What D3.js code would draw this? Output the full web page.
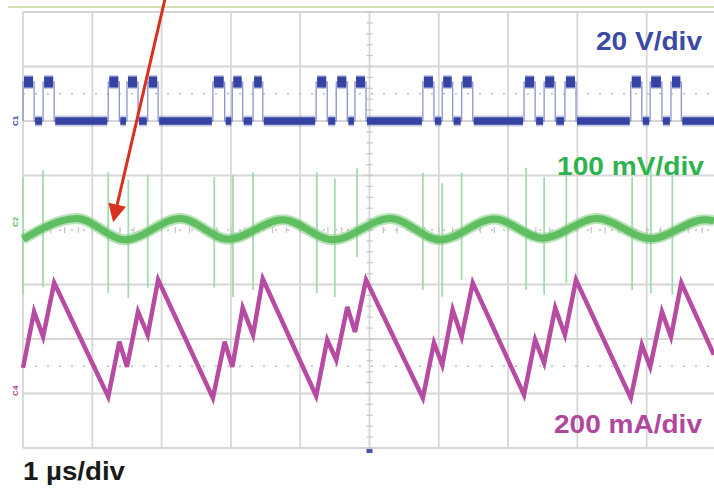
<!DOCTYPE html>
<html>
<head>
<meta charset="utf-8">
<script src="https://cdn.jsdelivr.net/npm/d3@7"></script>
<style>
  html, body { margin: 0; padding: 0; background: #fff; }
  svg { display: block; }
  text { font-family: "Liberation Sans", Arial, sans-serif; font-weight: bold; }
</style>
</head>
<body>
<div id="scope"></div>
<script>
// time axis: 1 µs/div, 10 divisions
// switch node (20 V/div) : pulse edges in µs
const pulseStart = [0, 0.29, 1.23, 1.50, 1.80, 2.74, 3.02, 3.32, 4.23, 4.52, 4.79, 5.77, 6.05, 6.33, 7.23, 7.52, 7.82, 8.77, 9.05, 9.35];
const pulseEnd   = [0.16, 0.45, 1.39, 1.66, 1.95, 2.91, 3.17, 3.46, 4.39, 4.68, 4.95, 5.93, 6.20, 6.49, 7.39, 7.68, 7.98, 8.93, 9.22, 9.50];
const swLevels = [0, 14.3];   // V low / high

// output ripple (100 mV/div), extremes of the waveform
const rippleTime = [0, 0.78, 1.47, 2.27, 2.96, 3.75, 4.47, 5.30, 6.02, 6.80, 7.50, 8.28, 9.06, 9.84, 9.97];
const rippleMv   = [-17, 21, -18, 21, -17, 19, -18, 21, -18, 20, -15, 21, -16, 19, 17];

// switching spikes on the ripple trace
const spikeTime   = [0, 0.29, 1.23, 1.52, 1.80, 2.76, 3.03, 3.32, 4.24, 4.50, 4.82, 5.77, 6.05, 6.33, 7.26, 7.52, 7.84, 8.79, 9.06, 9.37];
const spikeTop    = [97, 110, 106, 92, 101, 97, 101, 106, 106, 95, 114, 105, 86, 105, 114, 97, 110, 97, 114, 105];
const spikeBottom = [-119, -105, -116, -125, -106, -106, -123, -110, -116, -123, -50, -110, -123, -92, -110, -119, -97, -110, -116, -119];

// inductor current (200 mA/div), vertices
const ilTime = [0, 0.16, 0.29, 0.45, 1.23, 1.39, 1.50, 1.66, 1.80, 1.95, 2.74, 2.91, 3.02, 3.17, 3.32, 3.46,
                4.23, 4.39, 4.52, 4.68, 4.79, 4.95, 5.77, 5.93, 6.05, 6.20, 6.33, 6.49, 7.23, 7.39, 7.52, 7.68,
                7.82, 7.98, 8.77, 8.93, 9.05, 9.22, 9.35, 9.50, 9.97];
const ilMa   = [110, 316, 224, 422, 4, 206, 114, 316, 231, 433, 0, 206, 114, 330, 231, 437,
                7, 213, 139, 334, 242, 433, 0, 202, 121, 323, 224, 422, 11, 213, 128, 330,
                231, 433, 0, 194, 114, 316, 224, 422, 158];

const scaleLabels = ["20 V/div", "100 mV/div", "200 mA/div", "1 µs/div"];
const channelTags = ["C1", "C2", "C4"];

const W = 714, H = 488;
const svg = d3.select("#scope").append("svg").attr("width", W).attr("height", H);

const xScale = d3.scaleLinear().domain([0, 10]).range([23, 716]);
const yDiv = d3.scaleLinear().domain([-4, 4]).range([448, 12]);
const ySw = v => yDiv(2 + v / 20);
const yRip = mv => yDiv(mv / 100);
const yIl = ma => yDiv(-3.08 + ma / 200);

// top separator
svg.append("line").attr("x1", 8).attr("x2", W).attr("y1", 7).attr("y2", 7)
  .attr("stroke", "#d3e2b0").attr("stroke-width", 2);

// grid
const grid = svg.append("g").attr("stroke", "#d6d6d6").attr("stroke-width", 1.8);
d3.range(0, 11).forEach(i => {
  grid.append("line").attr("x1", xScale(i)).attr("x2", xScale(i))
    .attr("y1", yDiv(4)).attr("y2", yDiv(-4));
});
d3.range(-4, 5).filter(d => d !== 0).forEach(d => {
  grid.append("line").attr("x1", xScale(0)).attr("x2", xScale(10))
    .attr("y1", yDiv(d)).attr("y2", yDiv(d));
});
// dotted reference lines
[2.5, 0, -2.5].forEach(d => {
  svg.append("line").attr("x1", xScale(0)).attr("x2", xScale(10))
    .attr("y1", yDiv(d)).attr("y2", yDiv(d))
    .attr("stroke", "#bdbdbd").attr("stroke-width", 1.5).attr("stroke-dasharray", "2,10");
});
// center ticks
const ticks = svg.append("g").attr("stroke", "#c4c4c4").attr("stroke-width", 1.2);
d3.range(-20, 21).forEach(k => {
  const y = yDiv(k / 5);
  ticks.append("line").attr("x1", xScale(5) - 3).attr("x2", xScale(5) + 3).attr("y1", y).attr("y2", y);
});
d3.range(1, 50).forEach(k => {
  const x = xScale(k / 5);
  ticks.append("line").attr("x1", x).attr("x2", x).attr("y1", yDiv(0) - 3).attr("y2", yDiv(0) + 3);
});

// switch node trace
const swPts = [];
pulseStart.forEach((s, i) => {
  swPts.push([s, swLevels[0]], [s, swLevels[1]], [pulseEnd[i], swLevels[1]], [pulseEnd[i], swLevels[0]]);
});
swPts.push([10, swLevels[0]]);
const swLine = d3.line().x(d => xScale(d[0])).y(d => ySw(d[1]));
svg.append("path").attr("d", swLine(swPts)).attr("fill", "none")
  .attr("stroke", "#8c93cf").attr("stroke-width", 1.3);
const segs = [];
pulseStart.forEach((s, i) => {
  segs.push([s, pulseEnd[i], swLevels[1]]);
  const next = i + 1 < pulseStart.length ? pulseStart[i + 1] : 10;
  segs.push([pulseEnd[i], next, swLevels[0]]);
});
svg.append("g").selectAll("line.fz").data(segs).join("line")
  .attr("x1", d => xScale(d[0]) + 1).attr("x2", d => xScale(d[1]) - 1)
  .attr("y1", d => ySw(d[2])).attr("y2", d => ySw(d[2]))
  .attr("stroke", "#5f68b8").attr("stroke-width", d => d[2] > 0 ? 14 : 11).attr("opacity", 0.35);
svg.append("g").selectAll("line.sg").data(segs).join("line")
  .attr("x1", d => xScale(d[0]) + 1).attr("x2", d => xScale(d[1]) - 1)
  .attr("y1", d => ySw(d[2])).attr("y2", d => ySw(d[2]))
  .attr("stroke", "#3643a3").attr("stroke-width", d => d[2] > 0 ? 11 : 7.5);

// ripple spikes
svg.append("g").selectAll("line").data(spikeTime).join("line")
  .attr("x1", d => xScale(d)).attr("x2", d => xScale(d))
  .attr("y1", (d, i) => yRip(spikeTop[i])).attr("y2", (d, i) => yRip(spikeBottom[i]))
  .attr("stroke", "#a3dbb0").attr("stroke-width", 1.8);

// ripple band
const ripLine = d3.line().curve(d3.curveMonotoneX)
  .x((d, i) => xScale(rippleTime[i])).y(d => yRip(d));
svg.append("path").attr("d", ripLine(rippleMv)).attr("fill", "none")
  .attr("stroke", "#7fcb7f").attr("stroke-width", 11).attr("opacity", 0.55);
svg.append("path").attr("d", ripLine(rippleMv)).attr("fill", "none")
  .attr("stroke", "#5fbe5f").attr("stroke-width", 7);

// inductor current
const ilLine = d3.line().x((d, i) => xScale(ilTime[i])).y(d => yIl(d));
svg.append("path").attr("d", ilLine(ilMa)).attr("fill", "none")
  .attr("stroke", "#b64ba1").attr("stroke-width", 4.5).attr("stroke-linejoin", "miter");

// trigger marker
svg.append("rect").attr("x", xScale(5) - 3).attr("y", yDiv(-4) + 1).attr("width", 6).attr("height", 4)
  .attr("fill", "#4a55b0");

// channel tags
const tagY = [2, 0.15, -2.95];
const tagColor = ["#3d4aa3", "#5cbc5c", "#b5489f"];
channelTags.forEach((t, i) => {
  svg.append("text").attr("transform", `translate(${18},${yDiv(tagY[i])}) rotate(-90)`)
    .attr("text-anchor", "middle").attr("font-size", 8).attr("font-weight", "normal")
    .attr("fill", tagColor[i]).text(t);
});

// scale labels
const labelPos = [[596, 50, 106, "#3d4aa3"], [557, 175, 147, "#2fb34f"], [554, 433, 148, "#b0479f"], [23, 480, 102, "#1a1a1a"]];
scaleLabels.forEach((t, i) => {
  const p = labelPos[i];
  svg.append("text").attr("x", p[0]).attr("y", p[1]).attr("font-size", 25)
    .attr("textLength", p[2]).attr("lengthAdjust", "spacingAndGlyphs")
    .attr("fill", p[3]).text(t);
});

// red annotation arrow
const arrowFrom = [2.06, 4.3], arrowTo = [1.30, 0.14];
const ax0 = xScale(arrowFrom[0]), ay0 = yDiv(arrowFrom[1]);
const ax1 = xScale(arrowTo[0]), ay1 = yDiv(arrowTo[1]);
const ang = Math.atan2(ay1 - ay0, ax1 - ax0);
const headLen = 18, headW = 9;
const bx = ax1 - headLen * Math.cos(ang), by = ay1 - headLen * Math.sin(ang);
svg.append("line").attr("x1", ax0).attr("y1", ay0).attr("x2", bx).attr("y2", by)
  .attr("stroke", "#d8321f").attr("stroke-width", 3);
svg.append("path")
  .attr("d", `M${ax1},${ay1}L${bx + headW * Math.sin(ang)},${by - headW * Math.cos(ang)}L${bx - headW * Math.sin(ang)},${by + headW * Math.cos(ang)}Z`)
  .attr("fill", "#d8321f");
</script>
</body>
</html>
